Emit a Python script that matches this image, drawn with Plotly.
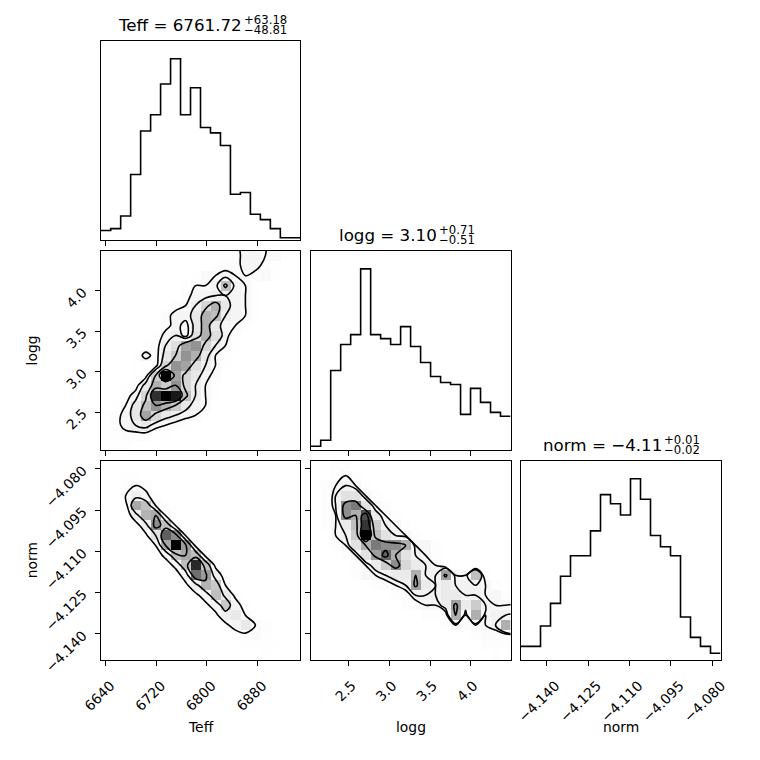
import numpy as np
import plotly.graph_objects as go

# ---- data ----
labels = ["Teff", "logg", "norm"]
ranges = [[6632.1, 6947.6], [2.028, 4.493], [-4.1495, -4.0770]]
n_bins = 20

teff_counts = [5, 6, 13, 36, 60, 69, 86, 100, 69, 84, 62, 59, 52, 25, 26, 14, 11, 6, 1, 1]
logg_counts = [2, 5, 40, 53, 58, 91, 58, 56, 53, 62, 52, 44, 37, 34, 33, 18, 31, 24, 19, 17]
norm_counts = [6, 6, 15, 25, 37, 46, 46, 57, 73, 69, 64, 80, 71, 55, 50, 46, 19, 10, 6, 3]

titles_main = ["Teff = 6761.72", "logg = 3.10", "norm = \u22124.11"]
titles_sup = ["+63.18", "+0.71", "+0.01"]
titles_sub = ["\u221248.81", "\u22120.51", "\u22120.02"]

teff_ticks = [6640, 6720, 6800, 6880]
teff_ticktext = ["6640", "6720", "6800", "6880"]
logg_ticks = [2.5, 3.0, 3.5, 4.0]
logg_ticktext = ["2.5", "3.0", "3.5", "4.0"]
norm_ticks = [-4.140, -4.125, -4.110, -4.095, -4.080]
norm_ticktext = ["\u22124.140", "\u22124.125", "\u22124.110", "\u22124.095", "\u22124.080"]

# 2D histograms, 20x20, rows listed from the top of the panel downwards
logg_vs_teff = [
    [0, 0, 0, 0, 0, 0, 0, 0, 0, 0, 0, 0, 1, 2, 4, 4, 3, 3, 1, 0],
    [0, 0, 0, 0, 0, 0, 0, 0, 0, 0, 0, 1, 2, 2, 4, 4, 2, 1, 0, 0],
    [0, 0, 0, 0, 0, 0, 0, 0, 0, 1, 3, 3, 4, 3, 3, 2, 3, 1, 0, 0],
    [0, 0, 0, 0, 0, 0, 0, 0, 1, 3, 3, 4, 10, 4, 3, 1, 0, 0, 0, 0],
    [0, 0, 0, 0, 0, 0, 0, 0, 2, 4, 4, 5, 5, 4, 3, 1, 0, 0, 0, 0],
    [0, 0, 0, 0, 0, 0, 0, 2, 3, 5, 8, 11, 6, 4, 3, 1, 0, 0, 0, 0],
    [0, 0, 0, 0, 0, 0, 2, 4, 4, 6, 11, 10, 5, 4, 3, 1, 0, 0, 0, 0],
    [0, 0, 0, 0, 0, 0, 2, 4, 2, 6, 11, 6, 4, 3, 1, 0, 0, 0, 0, 0],
    [0, 0, 0, 0, 0, 1, 4, 5, 2, 7, 11, 7, 4, 1, 0, 0, 0, 0, 0, 0],
    [0, 0, 0, 0, 1, 2, 5, 7, 12, 13, 8, 5, 3, 1, 0, 0, 0, 0, 0, 0],
    [0, 0, 0, 1, 4, 2, 6, 9, 13, 11, 6, 3, 1, 0, 0, 0, 0, 0, 0, 0],
    [0, 0, 0, 1, 1, 2, 8, 13, 12, 7, 5, 3, 1, 0, 0, 0, 0, 0, 0, 0],
    [0, 0, 0, 1, 2, 9, 20, 12, 8, 6, 4, 2, 0, 0, 0, 0, 0, 0, 0, 0],
    [0, 0, 1, 2, 6, 11, 9, 13, 8, 5, 3, 1, 0, 0, 0, 0, 0, 0, 0, 0],
    [0, 0, 2, 4, 8, 18, 20, 19, 10, 5, 3, 1, 0, 0, 0, 0, 0, 0, 0, 0],
    [0, 1, 3, 6, 10, 13, 11, 9, 6, 4, 3, 0, 0, 0, 0, 0, 0, 0, 0, 0],
    [1, 2, 4, 6, 12, 8, 6, 5, 4, 3, 1, 0, 0, 0, 0, 0, 0, 0, 0, 0],
    [1, 2, 4, 5, 6, 4, 3, 2, 1, 0, 0, 0, 0, 0, 0, 0, 0, 0, 0, 0],
    [1, 1, 2, 2, 2, 1, 1, 0, 0, 0, 0, 0, 0, 0, 0, 0, 0, 0, 0, 0],
    [1, 1, 1, 0, 0, 0, 0, 0, 0, 0, 0, 0, 0, 0, 0, 0, 0, 0, 0, 0],
]

norm_vs_teff = [
    [0, 0, 0, 0, 0, 0, 0, 0, 0, 0, 0, 0, 0, 0, 0, 0, 0, 0, 0, 0],
    [0, 0, 1, 1, 0, 0, 0, 0, 0, 0, 0, 0, 0, 0, 0, 0, 0, 0, 0, 0],
    [0, 0, 2, 3, 2, 0, 0, 0, 0, 0, 0, 0, 0, 0, 0, 0, 0, 0, 0, 0],
    [0, 0, 3, 6, 4, 1, 0, 0, 0, 0, 0, 0, 0, 0, 0, 0, 0, 0, 0, 0],
    [0, 0, 1, 14, 12, 3, 1, 0, 0, 0, 0, 0, 0, 0, 0, 0, 0, 0, 0, 0],
    [0, 0, 0, 6, 13, 14, 3, 0, 0, 0, 0, 0, 0, 0, 0, 0, 0, 0, 0, 0],
    [0, 0, 0, 1, 6, 16, 12, 3, 0, 0, 0, 0, 0, 0, 0, 0, 0, 0, 0, 0],
    [0, 0, 0, 0, 2, 8, 19, 16, 3, 0, 0, 0, 0, 0, 0, 0, 0, 0, 0, 0],
    [0, 0, 0, 0, 0, 3, 14, 24, 15, 2, 0, 0, 0, 0, 0, 0, 0, 0, 0, 0],
    [0, 0, 0, 0, 0, 1, 4, 12, 14, 12, 2, 0, 0, 0, 0, 0, 0, 0, 0, 0],
    [0, 0, 0, 0, 0, 0, 1, 4, 12, 22, 12, 2, 0, 0, 0, 0, 0, 0, 0, 0],
    [0, 0, 0, 0, 0, 0, 0, 1, 5, 18, 15, 6, 1, 0, 0, 0, 0, 0, 0, 0],
    [0, 0, 0, 0, 0, 0, 0, 0, 2, 6, 13, 11, 3, 0, 0, 0, 0, 0, 0, 0],
    [0, 0, 0, 0, 0, 0, 0, 0, 0, 2, 5, 12, 7, 2, 0, 0, 0, 0, 0, 0],
    [0, 0, 0, 0, 0, 0, 0, 0, 0, 0, 2, 5, 11, 5, 1, 0, 0, 0, 0, 0],
    [0, 0, 0, 0, 0, 0, 0, 0, 0, 0, 0, 2, 6, 7, 3, 1, 0, 0, 0, 0],
    [0, 0, 0, 0, 0, 0, 0, 0, 0, 0, 0, 0, 2, 5, 7, 3, 2, 0, 0, 0],
    [0, 0, 0, 0, 0, 0, 0, 0, 0, 0, 0, 0, 0, 1, 2, 3, 1, 0, 0, 0],
    [0, 0, 0, 0, 0, 0, 0, 0, 0, 0, 0, 0, 0, 0, 1, 1, 1, 1, 0, 0],
    [0, 0, 0, 0, 0, 0, 0, 0, 0, 0, 0, 0, 0, 0, 0, 0, 1, 0, 0, 0],
]

norm_vs_logg = [
    [0, 0, 1, 1, 0, 0, 0, 0, 0, 0, 0, 0, 0, 0, 0, 0, 0, 0, 0, 0],
    [0, 0, 1, 3, 1, 0, 0, 0, 0, 0, 0, 0, 0, 0, 0, 0, 0, 0, 0, 0],
    [0, 1, 3, 4, 3, 1, 0, 0, 0, 0, 0, 0, 0, 0, 0, 0, 0, 0, 0, 0],
    [0, 1, 4, 6, 6, 3, 1, 0, 0, 0, 0, 0, 0, 0, 0, 0, 0, 0, 0, 0],
    [0, 1, 4, 12, 13, 6, 3, 1, 0, 0, 0, 0, 0, 0, 0, 0, 0, 0, 0, 0],
    [0, 1, 3, 12, 10, 15, 5, 3, 1, 0, 0, 0, 0, 0, 0, 0, 0, 0, 0, 0],
    [0, 1, 3, 5, 9, 16, 8, 4, 3, 1, 0, 0, 0, 0, 0, 0, 0, 0, 0, 0],
    [0, 0, 3, 4, 8, 18, 9, 6, 4, 3, 1, 0, 0, 0, 0, 0, 0, 0, 0, 0],
    [0, 0, 1, 3, 6, 10, 13, 12, 12, 10, 3, 3, 1, 0, 0, 0, 0, 0, 0, 0],
    [0, 0, 0, 1, 3, 6, 11, 14, 10, 6, 4, 3, 1, 0, 0, 0, 0, 0, 0, 0],
    [0, 0, 0, 0, 1, 3, 5, 8, 12, 7, 5, 4, 3, 1, 0, 0, 0, 0, 0, 0],
    [0, 0, 0, 0, 1, 3, 3, 4, 5, 5, 10, 4, 4, 11, 3, 3, 9, 1, 0, 0],
    [0, 0, 0, 0, 0, 0, 1, 2, 3, 4, 11, 5, 4, 5, 4, 4, 4, 3, 1, 0],
    [0, 0, 0, 0, 0, 0, 0, 0, 1, 2, 4, 4, 4, 5, 5, 4, 4, 3, 3, 1],
    [0, 0, 0, 0, 0, 0, 0, 0, 0, 1, 2, 3, 3, 5, 11, 5, 8, 4, 3, 3],
    [0, 0, 0, 0, 0, 0, 0, 0, 0, 0, 0, 1, 1, 2, 10, 3, 10, 3, 4, 4],
    [0, 0, 0, 0, 0, 0, 0, 0, 0, 0, 0, 0, 0, 1, 3, 2, 3, 3, 4, 10],
    [0, 0, 0, 0, 0, 0, 0, 0, 0, 0, 0, 0, 0, 0, 0, 0, 1, 2, 2, 2],
    [0, 0, 0, 0, 0, 0, 0, 0, 0, 0, 0, 0, 0, 0, 0, 0, 0, 1, 1, 1],
    [0, 0, 0, 0, 0, 0, 0, 0, 0, 0, 0, 0, 0, 0, 0, 0, 0, 0, 1, 0],
]

# ---- layout geometry, in pixels of the 760x760 browser window ----
W = H_PX = 752           # figure size; the page body adds an 8 px offset
OFF = 8
col_px = [(100.7, 300.3), (310.7, 510.5), (520.5, 720.5)]
row_px = [(40.7, 239.5), (250.7, 450.2), (460.7, 660.0)]

FONT = "DejaVu Sans"
tick_sets = [
    (teff_ticks, teff_ticktext, 5),
    (logg_ticks, logg_ticktext, 3),
    (norm_ticks, norm_ticktext, 9),
]


def px_x(x):
    return (x - OFF) / W


def px_y(y):
    return 1 - (y - OFF) / H_PX


def xdom(c):
    return [px_x(col_px[c][0]), px_x(col_px[c][1])]


def ydom(r):
    return [px_y(row_px[r][1]), px_y(row_px[r][0])]


def bin_edges(i):
    return np.linspace(ranges[i][0], ranges[i][1], n_bins + 1)


def bin_centers(i):
    e = bin_edges(i)
    return 0.5 * (e[1:] + e[:-1])


def sigma_levels(h):
    # credible levels used by corner: 0.5, 1, 1.5, 2 sigma
    levels = 1.0 - np.exp(-0.5 * np.arange(0.5, 2.1, 0.5) ** 2)
    flat = np.sort(h.flatten())[::-1]
    cum = np.cumsum(flat)
    cum /= cum[-1]
    v = np.empty(len(levels))
    for k, v0 in enumerate(levels):
        sel = flat[cum <= v0]
        v[k] = sel[-1] if len(sel) else flat[0]
    v.sort()
    m = np.diff(v) == 0
    while np.any(m):
        v[np.where(m)[0][0]] *= 1.0 - 1e-4
        m = np.diff(v) == 0
    return v


def padded(h, xc, yc):
    h2 = np.zeros((h.shape[0] + 4, h.shape[1] + 4)) + h.min()
    h2[2:-2, 2:-2] = h
    h2[2:-2, 1] = h[:, 0]
    h2[2:-2, -2] = h[:, -1]
    h2[1, 2:-2] = h[0]
    h2[-2, 2:-2] = h[-1]
    h2[1, 1] = h[0, 0]
    h2[1, -2] = h[0, -1]
    h2[-2, 1] = h[-1, 0]
    h2[-2, -2] = h[-1, -1]
    dx0, dx1 = xc[1] - xc[0], xc[-1] - xc[-2]
    dy0, dy1 = yc[1] - yc[0], yc[-1] - yc[-2]
    x2 = np.concatenate([xc[0] + np.array([-2, -1]) * dx0, xc, xc[-1] + np.array([1, 2]) * dx1])
    y2 = np.concatenate([yc[0] + np.array([-2, -1]) * dy0, yc, yc[-1] + np.array([1, 2]) * dy1])
    return h2, x2, y2


# density map: black -> transparent white, composited on white gives 1 - v^2
gray_scale = []
for v in np.linspace(0, 1, 11):
    g = int(round(255 * (1 - v ** 2)))
    gray_scale.append([float(v), f"rgb({g},{g},{g})"])

fig = go.Figure()

# panels: (row, col)
panels = [(0, 0), (1, 0), (1, 1), (2, 0), (2, 1), (2, 2)]
hist_counts = {0: teff_counts, 1: logg_counts, 2: norm_counts}
grids = {(1, 0): logg_vs_teff, (2, 0): norm_vs_teff, (2, 1): norm_vs_logg}

axis_base = dict(
    showline=True, mirror=True, linecolor="black", linewidth=1.1,
    ticks="outside", ticklen=5, tickwidth=1.1, tickcolor="black",
    showgrid=False, zeroline=False, fixedrange=True, automargin=False,
    tickfont=dict(family=FONT, size=13.9, color="black"),
)

layout_axes = {}
for k, (r, c) in enumerate(panels, start=1):
    xa, ya = f"x{k}", f"y{k}"
    tv, tt, shift = tick_sets[c]
    xaxis = dict(axis_base, domain=xdom(c), range=ranges[c], anchor=ya,
                 tickvals=tv, ticktext=tt)
    if r == 2:
        xaxis.update(tickangle=-45, ticklabelshift=shift, ticklabelstandoff=6)
    else:
        xaxis.update(showticklabels=False)

    if r == c:
        counts = hist_counts[c]
        edges = bin_edges(c)
        fig.add_trace(go.Scatter(
            x=edges, y=list(counts) + [counts[-1]], mode="lines",
            line=dict(color="black", width=1.6, shape="hv"),
            xaxis=xa, yaxis=ya, hoverinfo="skip", showlegend=False,
        ))
        yaxis = dict(axis_base, domain=ydom(r), range=[0, 1.1 * max(counts)],
                     anchor=xa, ticks="", showticklabels=False)
    else:
        h = np.array(grids[(r, c)], dtype=float)[::-1]
        xc, yc = bin_centers(c), bin_centers(r)
        fig.add_trace(go.Heatmap(
            x=xc, y=yc, z=h, zmin=0, zmax=h.max(), colorscale=gray_scale,
            showscale=False, xaxis=xa, yaxis=ya, hoverinfo="skip",
        ))
        h2, x2, y2 = padded(h, xc, yc)
        for lev in sigma_levels(h):
            fig.add_trace(go.Contour(
                x=x2, y=y2, z=h2, autocontour=False,
                contours=dict(start=lev, end=lev, size=1, coloring="lines"),
                colorscale=[[0, "black"], [1, "black"]],
                line=dict(width=1.6), showscale=False,
                xaxis=xa, yaxis=ya, hoverinfo="skip",
            ))
        tvy, tty, _ = tick_sets[r]
        yaxis = dict(axis_base, domain=ydom(r), range=ranges[r], anchor=xa,
                     tickvals=tvy, ticktext=tty)
        if c == 0:
            yaxis.update(tickangle=-45, ticklabelstandoff=9)
        else:
            yaxis.update(showticklabels=False)

    name = "" if k == 1 else str(k)
    layout_axes["xaxis" + name] = xaxis
    layout_axes["yaxis" + name] = yaxis

annotations = []
# titles above diagonal panels
title_split = [243.0, 437.5, 663.0]
for i in range(3):
    top = row_px[i][0]
    common = dict(xref="paper", yref="paper", yanchor="middle", showarrow=False, borderpad=0)
    annotations.append(dict(
        common, text=titles_main[i], x=px_x(title_split[i]), y=px_y(top - 16),
        xanchor="right", font=dict(family=FONT, size=16.7, color="black"),
    ))
    annotations.append(dict(
        common, text=titles_sup[i], x=px_x(title_split[i]), y=px_y(top - 20.5),
        xanchor="left", font=dict(family=FONT, size=11.7, color="black"),
    ))
    annotations.append(dict(
        common, text=titles_sub[i], x=px_x(title_split[i]), y=px_y(top - 11),
        xanchor="left", font=dict(family=FONT, size=11.7, color="black"),
    ))

# axis labels
for c in range(3):
    xc_px = 0.5 * (col_px[c][0] + col_px[c][1])
    annotations.append(dict(
        text=labels[c], x=px_x(xc_px), y=px_y(727), xref="paper", yref="paper",
        xanchor="center", yanchor="middle", showarrow=False,
        font=dict(family=FONT, size=13.9, color="black"),
    ))
for r in (1, 2):
    yc_px = 0.5 * (row_px[r][0] + row_px[r][1])
    annotations.append(dict(
        text=labels[r], x=px_x(32), y=px_y(yc_px), xref="paper", yref="paper",
        xanchor="center", yanchor="middle", textangle=-90, showarrow=False,
        font=dict(family=FONT, size=13.9, color="black"),
    ))

fig.update_layout(
    width=W, height=H_PX,
    margin=dict(l=0, r=0, t=0, b=0, pad=0, autoexpand=False),
    paper_bgcolor="white", plot_bgcolor="white",
    showlegend=False, annotations=annotations, **layout_axes,
)

fig.write_html("out.html", config={"displayModeBar": False})
